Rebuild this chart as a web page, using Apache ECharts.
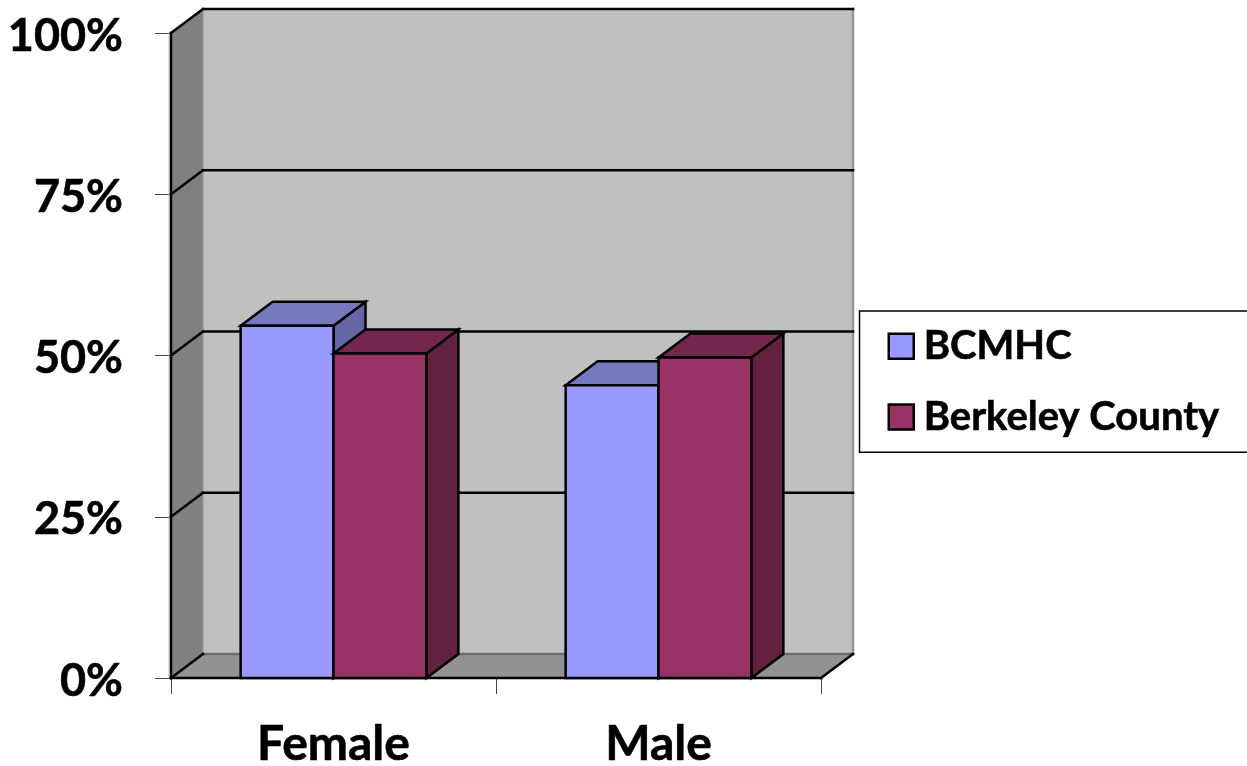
<!DOCTYPE html>
<html>
<head>
<meta charset="utf-8">
<style>
  html, body { margin: 0; padding: 0; background: #fff; overflow: hidden; }
  #chart { width: 1247px; height: 766px; }
</style>
<script src="https://cdn.jsdelivr.net/npm/echarts@6/dist/echarts.min.js"></script>
</head>
<body>
<div id="chart"></div>
<script>
const categories = ['Female', 'Male'];
const yTicks = [0, 25, 50, 75, 100];
const bcmhcValues = [54.6, 45.4];
const berkeleyValues = [50.3, 49.7];

const FONT = 'Lato, Carlito, "Open Sans", sans-serif';
const DEPTH_X = 32;
const DEPTH_Y = -24;

const chart = echarts.init(document.getElementById('chart'));

function poly(points, fill, stroke, lineWidth) {
  return {
    type: 'polygon',
    shape: { points },
    style: { fill, stroke: stroke || 'none', lineWidth: lineWidth || 0, lineJoin: 'miter' }
  };
}

function seg(x1, y1, x2, y2, stroke, lineWidth) {
  return {
    type: 'line',
    shape: { x1, y1, x2, y2 },
    style: { stroke, lineWidth, lineCap: 'square' }
  };
}

// Back wall, side wall and floor of the box, with gridlines wrapping the two walls.
function renderWalls(params, api) {
  const r = params.coordSys;
  const L = r.x, R = r.x + r.width, T = r.y, B = r.y + r.height;
  const dx = DEPTH_X, dy = DEPTH_Y;
  const kids = [
    poly([[L + dx, T + dy], [R + dx, T + dy], [R + dx, B + dy], [L + dx, B + dy]], '#c0c0c0'),
    poly([[L, T], [L + dx, T + dy], [L + dx, B + dy], [L, B]], '#808080'),
    poly([[L, B], [L + dx, B + dy], [R + dx, B + dy], [R, B]], '#929292'),
    seg(R + dx, T + dy, R + dx, B + dy, '#969696', 2.5),
    seg(L + dx, T + dy, L + dx, B + dy, '#9a9a9a', 1.5),
    seg(L + dx, B + dy, R + dx, B + dy, '#6e6e6e', 2.5),
    seg(L - 2, T, L - 2, B, '#c4c4c4', 1)
  ];
  yTicks.forEach(function (t) {
    const y = api.coord([0, t])[1];
    if (t > 0) {
      kids.push(seg(L, y, L + dx, y + dy, '#000', 2.5));
      kids.push(seg(L + dx, y + dy, R + dx, y + dy, '#000', 2.5));
    }
  });
  kids.push(seg(L, T, L, B, '#000', 2.5));
  kids.push(seg(L, B, L + dx, B + dy, '#000', 2.5));
  kids.push(seg(R, B, R + dx, B + dy, '#000', 2.5));
  kids.push(seg(L, B, R, B, '#000', 2.5));
  return { type: 'group', children: kids };
}

// One prism per data item: front, top and side faces sit next to each other in a band.
function barRenderer(slot, front, top, side) {
  return function (params, api) {
    const cat = api.value(0);
    const band = api.size([1, 0])[0];
    const w = band / 3.5;
    const base = api.coord([cat, 0]);
    const head = api.coord([cat, api.value(1)]);
    const x0 = base[0] - w + slot * w;
    const x1 = x0 + w;
    const yT = head[1], yB = base[1];
    const dx = DEPTH_X, dy = DEPTH_Y;
    const line = '#000';
    return {
      type: 'group',
      children: [
        poly([[x1, yT], [x1 + dx, yT + dy], [x1 + dx, yB + dy], [x1, yB]], side, line, 2.5),
        poly([[x0, yT], [x0 + dx, yT + dy], [x1 + dx, yT + dy], [x1, yT]], top, line, 2.5),
        poly([[x0, yT], [x1, yT], [x1, yB], [x0, yB]], front, line, 2.5)
      ]
    };
  };
}

function barSeries(name, values, slot, front, top, side) {
  return {
    name,
    type: 'custom',
    coordinateSystem: 'cartesian2d',
    renderItem: barRenderer(slot, front, top, side),
    itemStyle: { color: front },
    encode: { x: 0, y: 1 },
    data: values.map(function (v, i) { return [i, v]; }),
    z: 3 + slot,
    silent: true
  };
}

chart.setOption({
  animation: false,
  backgroundColor: '#fff',
  grid: { left: 171, top: 33, width: 650, height: 645, outerBoundsMode: 'none' },
  legend: {
    orient: 'vertical',
    left: 859.5,
    top: 311,
    data: ['BCMHC', 'Berkeley County'],
    icon: 'rect',
    itemWidth: 25,
    itemHeight: 25,
    itemGap: 30,
    padding: [15, 40, 15, 28],
    backgroundColor: '#fff',
    borderColor: '#000',
    borderWidth: 1.5,
    borderRadius: 0,
    selectedMode: false,
    itemStyle: { borderColor: '#000', borderWidth: 2.5 },
    textStyle: {
      fontFamily: FONT, fontWeight: 'bold', fontSize: 40, color: '#000',
      padding: [0, 0, 0, 5], textBorderColor: '#000', textBorderWidth: 0.6
    }
  },
  xAxis: {
    type: 'category',
    data: categories,
    boundaryGap: true,
    axisLine: { show: false },
    axisTick: { show: true, length: 16, lineStyle: { color: '#444', width: 1 } },
    axisLabel: {
      fontFamily: FONT, fontWeight: 'bold', fontSize: 48, color: '#000', margin: 43,
      textBorderColor: '#000', textBorderWidth: 0.6
    }
  },
  yAxis: {
    type: 'value',
    min: 0,
    max: 100,
    interval: 25,
    axisLine: { show: false },
    splitLine: { show: false },
    axisTick: { show: true, length: 16, lineStyle: { color: '#444', width: 1 } },
    axisLabel: {
      fontFamily: FONT, fontWeight: 'bold', fontSize: 45, color: '#000', margin: 48,
      formatter: '{value}%', verticalAlign: 'top', lineHeight: 6,
      textBorderColor: '#000', textBorderWidth: 0.6
    }
  },
  series: [
    {
      type: 'custom',
      coordinateSystem: 'cartesian2d',
      renderItem: renderWalls,
      data: [[0, 0]],
      encode: { x: 0, y: 1 },
      z: 1,
      silent: true
    },
    barSeries('BCMHC', bcmhcValues, 0, '#9999ff', '#7779bf', '#6566a5'),
    barSeries('Berkeley County', berkeleyValues, 1, '#993366', '#73274d', '#61213f')
  ]
});
</script>
</body>
</html>
